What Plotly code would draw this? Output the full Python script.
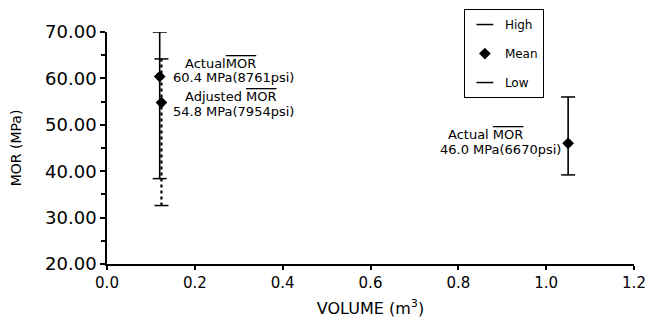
import plotly.graph_objects as go

# ---- data ----
series_names = ["Actual (small)", "Adjusted (small)", "Actual (large)"]
volume = [0.120, 0.124, 1.05]
mor_high = [70.0, 64.2, 56.0]
mor_mean = [60.4, 54.8, 46.0]
mor_low = [38.4, 32.6, 39.2]
line_dash = ["solid", "dot", "solid"]

legend_names = ["High", "Mean", "Low"]

x_ticks = [0.0, 0.2, 0.4, 0.6, 0.8, 1.0, 1.2]
y_ticks = [20, 30, 40, 50, 60, 70]

FONT = "DejaVu Sans"
OL = "<span style='text-decoration:overline'>MOR</span>"

fig = go.Figure()

for i in range(len(volume)):
    # high-low range with caps
    fig.add_trace(go.Scatter(
        x=[volume[i], volume[i]], y=[mor_low[i], mor_high[i]],
        mode="lines+markers",
        line=dict(color="black", width=1.6 if line_dash[i] == "solid" else 2.2, dash=line_dash[i]),
        marker=dict(symbol="line-ew", size=10, line=dict(color="black", width=1.5)),
        showlegend=False, hoverinfo="skip"))
    # mean
    fig.add_trace(go.Scatter(
        x=[volume[i]], y=[mor_mean[i]], mode="markers",
        marker=dict(symbol="diamond", size=9, color="black"),
        showlegend=False))

# legend entries
for j, name in enumerate(legend_names):
    if name == "Mean":
        mk = dict(symbol="diamond", size=9, color="black")
    else:
        mk = dict(symbol="line-ew", size=12, line=dict(color="black", width=1.5))
    fig.add_trace(go.Scatter(
        x=[None], y=[None], mode="markers", name=name, marker=mk,
        legendgroup=name, showlegend=True))

ann_font = dict(family=FONT, size=13, color="black")
annotations = [
    dict(x=0.173, y=63.3, text="Actual" + OL, xanchor="left"),
    dict(x=0.146, y=60.1, text="60.4 MPa(8761psi)", xanchor="left"),
    dict(x=0.173, y=56.0, text="Adjusted " + OL, xanchor="left"),
    dict(x=0.146, y=52.8, text="54.8 MPa(7954psi)", xanchor="left"),
    dict(x=0.861, y=48.0, text="Actual " + OL, xanchor="center"),
    dict(x=1.038, y=44.6, text="46.0 MPa(6670psi)", xanchor="right"),
]
for a in annotations:
    fig.add_annotation(xref="x", yref="y", showarrow=False, yanchor="middle",
                       font=ann_font, **a)

fig.update_layout(
    width=650, height=325,
    margin=dict(l=107, r=16, t=32, b=61, autoexpand=False),
    plot_bgcolor="white", paper_bgcolor="white",
    font=dict(family=FONT, color="black", size=14),
    showlegend=True,
    legend=dict(
        x=0.829, xanchor="right", y=1.099, yanchor="top",
        bordercolor="black", borderwidth=1, bgcolor="white",
        font=dict(family=FONT, size=12, color="black"),
        traceorder="grouped", tracegroupgap=10, itemwidth=30),
    xaxis=dict(
        range=[0, 1.2], tickvals=x_ticks, tickformat=".1f",
        showline=True, linecolor="black", linewidth=1.5,
        ticks="outside", ticklen=4, tickcolor="black", tickwidth=1.5,
        showgrid=False, zeroline=False, automargin=False,
        tickfont=dict(family=FONT, size=15),
        title=dict(text="VOLUME (m<sup>3</sup>)", font=dict(family=FONT, size=16), standoff=12)),
    yaxis=dict(
        range=[20, 70], tickvals=y_ticks, tickformat=".2f",
        showline=True, linecolor="black", linewidth=1.5,
        ticks="outside", ticklen=5, tickcolor="black", tickwidth=1.5,
        minor=dict(dtick=5, ticks="outside", ticklen=4, tickcolor="black", showgrid=False),
        showgrid=False, zeroline=False, automargin=False,
        tickfont=dict(family=FONT, size=18),
        title=dict(text="MOR (MPa)", font=dict(family=FONT, size=14), standoff=20)),
)

fig.write_html("out.html",
               config={"displayModeBar": False},
               post_script="document.body.style.margin='0';document.body.style.overflow='hidden';")
